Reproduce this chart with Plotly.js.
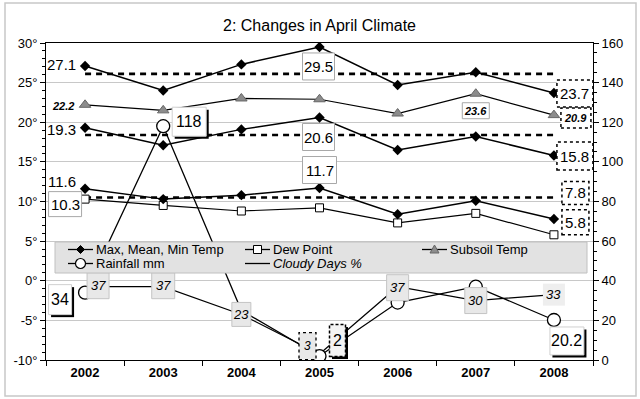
<!DOCTYPE html>
<html><head><meta charset="utf-8">
<script src="https://cdn.plot.ly/plotly-3.0.1.min.js"></script>
<style>html,body{margin:0;padding:0;background:#fff}#chart{width:640px;height:399px}</style>
</head><body><div id="chart"></div>
<script>
const years = ['2002','2003','2004','2005','2006','2007','2008'];
const maxTemp  = [27.1, 24.0, 27.3, 29.5, 24.7, 26.3, 23.7];
const meanTemp = [19.3, 17.1, 19.1, 20.6, 16.5, 18.2, 15.8];
const minTemp  = [11.6, 10.3, 10.8, 11.7, 8.4, 10.1, 7.8];
const dewPoint = [10.3, 9.5, 8.8, 9.2, 7.3, 8.5, 5.8];
const subsoil  = [22.2, 21.5, 23.0, 22.9, 21.1, 23.6, 20.9];
const rainfall = [34, 118, 25, 2, 29, 37, 20.2];
const cloudy   = [37, 37, 23, 3, 37, 30, 33];
const avgMax = 26.1, avgMean = 18.4, avgMin = 10.5;
const leftTicks = [-10, -5, 0, 5, 10, 15, 20, 25, 30];
const rightTicks = [0, 20, 40, 60, 80, 100, 120, 140, 160];
const seriesNames = ['Max, Mean, Min Temp', 'Dew Point', 'Subsoil Temp', 'Rainfall mm', 'Cloudy Days %'];

const FONT = 'Arial, "Liberation Sans", sans-serif';
const L = 46, R = 47, T = 43, B = 39, PW = 640 - L - R, PH = 399 - T - B;
const fx = px => (px - L) / PW;
const fy = py => (PH + T - py) / PH;

const tempLine = {color: '#000', width: 1.5};
const diamond = {symbol: 'diamond', size: 8, color: '#000'};
const avgLine = {color: '#000', width: 2.6, dash: '6px,5px'};
const flat = v => years.map(() => v);

const traces = [
  {x: years, y: flat(avgMax), mode: 'lines', line: avgLine},
  {x: years, y: flat(avgMean), mode: 'lines', line: avgLine},
  {x: years, y: flat(avgMin), mode: 'lines', line: avgLine},
  {x: years, y: cloudy, yaxis: 'y2', mode: 'lines', name: seriesNames[4], line: {color: '#000', width: 1.2}},
  {x: years, y: rainfall, yaxis: 'y2', mode: 'lines+markers', name: seriesNames[3], line: {color: '#000', width: 1.3},
   marker: {symbol: 'circle', size: 13, color: '#fff', line: {color: '#000', width: 1.3}}},
  {x: years, y: dewPoint, mode: 'lines+markers', name: seriesNames[1], line: {color: '#000', width: 1.2},
   marker: {symbol: 'square', size: 8, color: '#fff', line: {color: '#000', width: 1}}},
  {x: years, y: subsoil, mode: 'lines+markers', name: seriesNames[2], line: {color: '#000', width: 1.2},
   marker: {symbol: 'triangle-up', size: 10, color: '#8c8c8c', line: {color: '#666', width: 1}}},
  {x: years, y: minTemp, mode: 'lines+markers', line: tempLine, marker: diamond},
  {x: years, y: meanTemp, mode: 'lines+markers', line: tempLine, marker: diamond},
  {x: years, y: maxTemp, mode: 'lines+markers', name: seriesNames[0], line: tempLine, marker: diamond}
];
traces.forEach(t => { t.showlegend = false; t.hoverinfo = 'skip'; });

// label styles
const STY = {
  plain:  {fill: null},
  box:    {fill: '#fff', line: {color: '#a8a8a8', width: 1}},
  dot:    {fill: '#fff', line: {color: '#000', width: 1.5, dash: 'dot'}},
  shadow: {fill: '#fff', line: {color: '#d0d0d0', width: 1}, shadow: true},
  dashsh: {fill: '#f4f4f4', line: {color: '#000', width: 1.5, dash: '3px,2px'}, shadow: true},
  gray:   {fill: '#e8e8e8', line: {color: '#c4c4c4', width: 1}},
  graydot:{fill: '#e8e8e8', line: {color: '#000', width: 1.3, dash: 'dot'}},
  graynb: {fill: '#eeeeee', line: {width: 0}}
};
const f15 = {size: 15}, f16 = {size: 16}, bi11 = {size: 11, weight: 'bold', style: 'italic'}, i13 = {size: 13, style: 'italic'};

// [series, index, axis, decimals, style, dx, dy, w, h, font, anchor]
const labelSpec = [
  [maxTemp, 0, 'y', 1, 'plain', -7, -1, 0, 0, f15, 'right'],
  [maxTemp, 3, 'y', 1, 'box', -1, 19.5, 32, 27, f15],
  [maxTemp, 6, 'y', 1, 'dot', 21, 0.5, 36, 27, f15],
  [subsoil, 0, 'y', 1, 'plain', -9, 1.5, 0, 0, bi11, 'right'],
  [subsoil, 5, 'y', 1, 'box', 0, 17, 27, 16, bi11],
  [subsoil, 6, 'y', 1, 'dot', 22, 3, 30, 20, bi11],
  [meanTemp, 0, 'y', 1, 'plain', -7, 1.4, 0, 0, f15, 'right'],
  [meanTemp, 3, 'y', 1, 'box', -1, 19.5, 32, 27, f15],
  [meanTemp, 6, 'y', 1, 'dot', 21, 0.5, 36, 28, f15],
  [minTemp, 0, 'y', 1, 'plain', -7, -7, 0, 0, f15, 'right'],
  [minTemp, 3, 'y', 1, 'box', 0, -18, 34, 27, f15],
  [minTemp, 6, 'y', 1, 'dot', 21.5, -26, 27, 23, f15],
  [dewPoint, 0, 'y', 1, 'box', -20, 5, 33, 25, f15],
  [dewPoint, 6, 'y', 1, 'dot', 21.5, -12.5, 27, 25, f15],
  [cloudy, 0, 'y2', 0, 'gray', 13, -1, 22, 26, i13],
  [cloudy, 1, 'y2', 0, 'gray', 0, -1, 23, 26, i13],
  [cloudy, 2, 'y2', 0, 'gray', 0, 0, 19, 24, i13],
  [cloudy, 3, 'y2', 0, 'graydot', -12, -8, 17, 27, {size: 12, style: 'italic'}],
  [cloudy, 4, 'y2', 0, 'gray', 0, 1, 22, 26, i13],
  [cloudy, 5, 'y2', 0, 'gray', 0, 0, 22, 26, i13],
  [cloudy, 6, 'y2', 0, 'graynb', 0, 0, 22, 22, i13],
  [rainfall, 0, 'y2', 0, 'shadow', -25, 7, 23, 30, f16],
  [rainfall, 1, 'y2', 0, 'shadow', 26, -4.5, 34, 29, f16],
  [rainfall, 3, 'y2', 0, 'dashsh', 18, -15.5, 16, 32, f16],
  [rainfall, 6, 'y2', 0, 'shadow', 13, 21, 34, 28, f16]
];

const shapes = [
  {type: 'rect', xref: 'paper', yref: 'paper', layer: 'below',
   x0: fx(5), x1: fx(636), y0: fy(396), y1: fy(3),
   line: {color: '#c8c8c8', width: 1.5}, fillcolor: 'rgba(0,0,0,0)'}
];
const annotations = [];
labelSpec.forEach(s => {
  const [arr, i, ax, fmt, sty, dx, dy, w, h, font, anchor] = s;
  const v = arr[i];
  const st = STY[sty];
  const base = {type: 'rect', layer: 'above', xref: 'x', yref: ax, xsizemode: 'pixel', ysizemode: 'pixel',
                xanchor: i, yanchor: v};
  if (st.fill) {
    if (st.shadow) {
      shapes.push(Object.assign({}, base, {x0: dx - w / 2 + 2.5, x1: dx + w / 2 + 2.5, y0: -dy - h / 2 - 2.5, y1: -dy + h / 2 - 2.5,
        fillcolor: '#000', line: {width: 0}}));
    }
    shapes.push(Object.assign({}, base, {x0: dx - w / 2, x1: dx + w / 2, y0: -dy - h / 2, y1: -dy + h / 2,
      fillcolor: st.fill, line: st.line}));
  }
  annotations.push({x: i, y: v, xref: 'x', yref: ax, showarrow: false,
    text: fmt ? v.toFixed(fmt) : String(v), xanchor: anchor || 'center', yanchor: 'middle',
    xshift: dx, yshift: -dy, font: Object.assign({family: FONT, color: '#000'}, font)});
});

// ---- legend (drawn as a key box) ----
shapes.push({type: 'rect', xref: 'paper', yref: 'paper', layer: 'above',
  x0: fx(55), x1: fx(587), y0: fy(273), y1: fy(242), fillcolor: '#e2e2e2', line: {color: '#c0c0c0', width: 1}});
// [lineStartPx, rowYPx, markerKind, name, italic]
const keyItems = [
  [68, 249.5, 'diamond', 0, false],
  [245, 249.5, 'square', 1, false],
  [422, 249.5, 'triangle', 2, false],
  [68, 263.5, 'circle', 3, false],
  [245, 263.5, 'none', 4, true]
];
keyItems.forEach(k => {
  const [x0, yy, kind, ni, ital] = k;
  const x1 = x0 + 25, xm = x0 + 12.5;
  shapes.push({type: 'line', xref: 'paper', yref: 'paper', layer: 'above',
    x0: fx(x0), x1: fx(x1), y0: fy(yy), y1: fy(yy), line: {color: '#000', width: 1.3}});
  const r = 4;
  if (kind === 'diamond') {
    shapes.push({type: 'path', xref: 'paper', yref: 'paper', layer: 'above', fillcolor: '#000', line: {color: '#000', width: 1},
      path: `M${fx(xm)},${fy(yy - r)} L${fx(xm + r)},${fy(yy)} L${fx(xm)},${fy(yy + r)} L${fx(xm - r)},${fy(yy)} Z`});
  } else if (kind === 'square') {
    shapes.push({type: 'rect', xref: 'paper', yref: 'paper', layer: 'above', fillcolor: '#fff', line: {color: '#000', width: 1},
      x0: fx(xm - 4), x1: fx(xm + 4), y0: fy(yy + 4), y1: fy(yy - 4)});
  } else if (kind === 'triangle') {
    shapes.push({type: 'path', xref: 'paper', yref: 'paper', layer: 'above', fillcolor: '#8c8c8c', line: {color: '#666', width: 1},
      path: `M${fx(xm)},${fy(yy - 4.5)} L${fx(xm + 4.5)},${fy(yy + 3.5)} L${fx(xm - 4.5)},${fy(yy + 3.5)} Z`});
  } else if (kind === 'circle') {
    shapes.push({type: 'circle', xref: 'paper', yref: 'paper', layer: 'above', fillcolor: '#fff', line: {color: '#000', width: 1.2},
      x0: fx(xm - 5), x1: fx(xm + 5), y0: fy(yy + 5), y1: fy(yy - 5)});
  }
  annotations.push({xref: 'paper', yref: 'paper', x: fx(x1 + 1), y: fy(yy), xanchor: 'left', yanchor: 'middle',
    showarrow: false, text: ital ? '<i>' + seriesNames[ni] + '</i>' : seriesNames[ni],
    font: {family: FONT, size: 13, color: '#000'}});
});

const layout = {
  width: 640, height: 399,
  margin: {l: L, r: R, t: T, b: B, pad: 0},
  paper_bgcolor: '#fff', plot_bgcolor: '#fff',
  font: {family: FONT, color: '#000', size: 13},
  title: {text: '2: Changes in April Climate', font: {size: 16, family: FONT, color: '#000'},
          x: 0.5, xanchor: 'center', y: 1 - 25 / 399, yanchor: 'middle', xref: 'paper'},
  xaxis: {type: 'category', categoryorder: 'array', categoryarray: years, range: [-0.5, 6.5],
          showline: true, linecolor: '#000', linewidth: 1, mirror: true,
          ticks: 'outside', tickson: 'boundaries', ticklen: 5, tickcolor: '#000',
          showgrid: false, zeroline: false, fixedrange: true,
          tickfont: {size: 13, weight: 'bold', family: FONT}},
  yaxis: {range: [-10, 30], tickvals: leftTicks, ticktext: leftTicks.map(t => t + '°'),
          showline: true, linecolor: '#000', linewidth: 1,
          ticks: 'outside', ticklen: 5, tickcolor: '#000',
          minor: {dtick: 1, ticks: 'outside', ticklen: 3, tickcolor: '#000', showgrid: false},
          showgrid: true, gridcolor: '#c8c8c8', gridwidth: 1, zeroline: false,
          tickfont: {size: 13}},
  yaxis2: {range: [0, 160], tickvals: rightTicks, overlaying: 'y', side: 'right',
           showline: true, linecolor: '#000', linewidth: 1,
           ticks: 'outside', ticklen: 5, tickcolor: '#000',
           minor: {dtick: 5, ticks: 'outside', ticklen: 3, tickcolor: '#000', showgrid: false},
           showgrid: false, zeroline: false, tickfont: {size: 13}},
  shapes: shapes,
  annotations: annotations,
  showlegend: false
};

Plotly.newPlot('chart', traces, layout, {displayModeBar: false, staticPlot: true});
</script>
</body></html>
